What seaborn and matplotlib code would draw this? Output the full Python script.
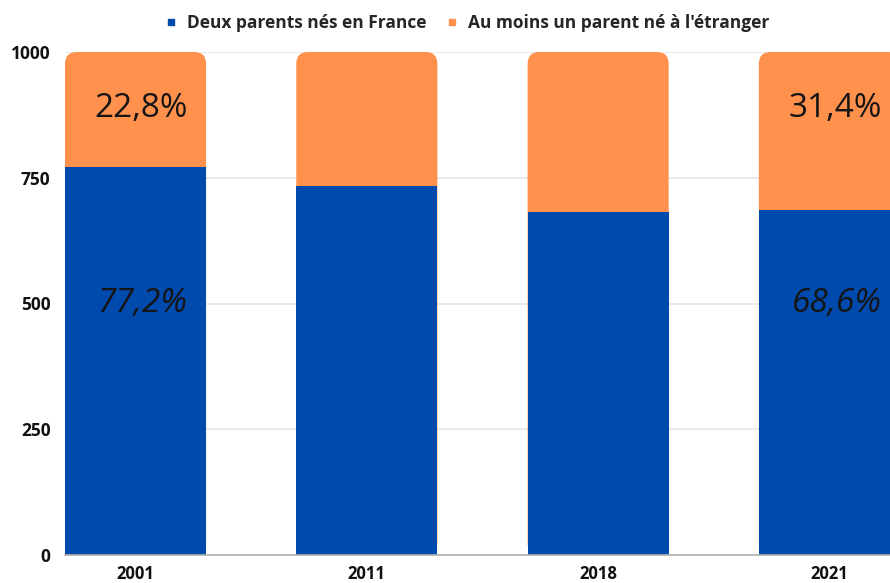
import pandas as pd
import seaborn as sns
import matplotlib.pyplot as plt
from matplotlib.patches import FancyBboxPatch
from matplotlib.lines import Line2D

# data (per 1000)
years = ["2001", "2011", "2018", "2021"]
france = [772, 734, 681, 686]
total = [1000, 1000, 1000, 1000]
label_years = ["2001", "2021"]
label_top = ["22,8%", "31,4%"]
label_bottom = ["77,2%", "68,6%"]

blue = "#004aad"
orange = "#ff914d"

df = pd.DataFrame({"year": years, "france": france, "total": total})

sns.set_style("white")
plt.rcParams["font.family"] = ["Open Sans", "DejaVu Sans"]

fig = plt.figure(figsize=(8.9, 5.83), dpi=100)
ax = fig.add_axes([65 / 890, 1 - 555 / 583, 1 - 65 / 890, (555 - 52) / 583])

# orange bar covers full height, blue drawn over it
sns.barplot(data=df, x="year", y="total", color=orange, width=0.61,
            saturation=1, linewidth=0, edgecolor="none", ax=ax, zorder=2)
ax.set_xlim(-0.305, 3.262)
ax.set_ylim(0, 1000)

# rounded top corners for the orange bars
px_x = 825 / (3.262 + 0.305)
px_y = 503 / 1000
r = 12
for p in list(ax.patches):
    x, y = p.get_x(), p.get_y()
    w, h = p.get_width(), p.get_height()
    p.remove()
    ax.add_patch(FancyBboxPatch((x, y), w, h,
                                boxstyle=f"round,pad=0,rounding_size={r / px_x}",
                                mutation_aspect=px_x / px_y,
                                fc=orange, ec="none", lw=0, zorder=2))

sns.barplot(data=df, x="year", y="france", color=blue, width=0.61,
            saturation=1, linewidth=0, edgecolor="none", ax=ax, zorder=3)
ax.set_xlim(-0.305, 3.262)
ax.set_ylim(0, 1000)

ax.set_yticks([0, 250, 500, 750, 1000])
ax.yaxis.grid(True, color="#e6e6e6", lw=1.2, zorder=0)
ax.set_axisbelow(True)
for s in ["top", "right", "left"]:
    ax.spines[s].set_visible(False)
ax.spines["bottom"].set_color("#b0b0b0")
ax.spines["bottom"].set_linewidth(1.2)
ax.spines["bottom"].set_zorder(4)
ax.tick_params(axis="y", length=0, pad=10.5, labelsize=12.5)
ax.tick_params(axis="x", length=0, pad=7.5, labelsize=12)
for t in ax.get_xticklabels() + ax.get_yticklabels():
    t.set_fontweight("bold")
    t.set_color("#111111")
ax.set_xlabel("")
ax.set_ylabel("")

for yr, top, bot in zip(label_years, label_top, label_bottom):
    i = years.index(yr)
    ax.annotate(top, (i, 888), xytext=(4, 0), textcoords="offset points",
                ha="center", va="center", fontsize=24, color="#151515", zorder=5)
    ax.annotate(bot, (i, 500), xytext=(5, 0), textcoords="offset points",
                ha="center", va="center", fontsize=24, style="italic",
                color="#151515", zorder=5)

handles = [Line2D([], [], marker="s", ls="", color=blue, markersize=5),
           Line2D([], [], marker="s", ls="", color=orange, markersize=5)]
fig.legend(handles, ["Deux parents nés en France", "Au moins un parent né à l'étranger"],
           loc="center", bbox_to_anchor=(466 / 890, 1 - 23 / 583), ncol=2,
           frameon=False, handletextpad=0.4, columnspacing=1.0, handlelength=1.0,
           prop={"weight": "bold", "size": 12.5})

fig.savefig("out.png", dpi=100)
